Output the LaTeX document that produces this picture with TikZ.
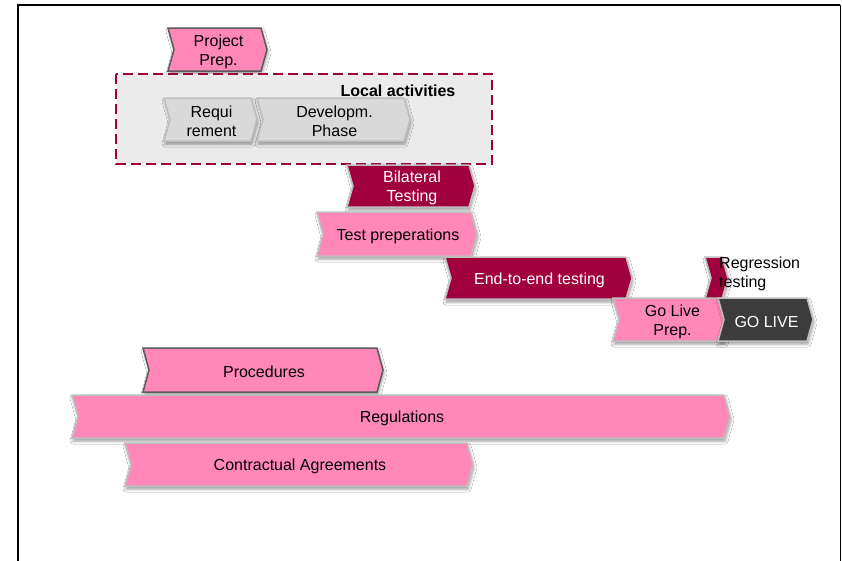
\documentclass[tikz,border=0pt]{standalone}
\usepackage{fontspec}
\setmainfont{Liberation Sans}
\usetikzlibrary{shadows.blur}
\definecolor{pinkc}{RGB}{255,136,184}
\definecolor{redc}{RGB}{160,0,60}
\definecolor{grayc}{RGB}{217,217,217}
\definecolor{darkc}{RGB}{60,60,60}
\definecolor{boxc}{RGB}{235,235,235}
\definecolor{lborder}{RGB}{190,190,190}
\definecolor{dborder}{RGB}{90,90,90}
\tikzset{
  shd/.style={blur shadow={shadow xshift=1pt,shadow yshift=-3pt,shadow blur radius=3pt,shadow opacity=40}},
  pinkbox/.style={fill=pinkc,draw=lborder,line width=1.5pt,line join=miter,shd},
  pinkboxd/.style={fill=pinkc,draw=dborder,line width=1.5pt,line join=miter,shd},
  redbox/.style={fill=redc,draw=lborder,line width=1.5pt,line join=miter,shd},
  graybox/.style={fill=grayc,draw=lborder,line width=1.5pt,line join=miter,shd},
  darkbox/.style={fill=darkc,draw=lborder,line width=1.5pt,line join=miter,shd},
  txt/.style={font=\fontsize{16}{19}\selectfont,align=center,inner sep=0pt,text=black},
  wtxt/.style={txt,text=white},
  localbox/.style={fill=boxc,draw=redc,line width=1.8pt,dash pattern=on 10pt off 5pt},
}
% style, name, x1, y1, x2(tip), y2, text style, text
\newcommand{\chev}[8]{%
  \draw[#1] (#3,#4) -- ({#5-6},#4) -- (#5,{(#4+#6)/2}) -- ({#5-6},#6) -- (#3,#6) -- ({#3+6},{(#4+#6)/2}) -- cycle;
  \node[#7] (#2) at ({(#3+#5)/2+1},{(#4+#6)/2+2}) {#8};}
\begin{document}
\begin{tikzpicture}[x=1pt,y=-1pt]
\useasboundingbox (0,0) rectangle (842,560);
\fill[white] (0,0) rectangle (842,560);
% frame
\draw[line width=2.5pt,black] (18,562) -- (18,5) -- (840,5);
\draw[line width=1pt,black] (840,5) -- (840,562);
% project prep
\chev{pinkboxd}{pp}{168}{28}{267}{71}{txt}{Project\\Prep.}
% local activities box
\draw[localbox] (116,74) rectangle (492,164);
\node[txt,font=\fontsize{16}{19}\selectfont\bfseries] (la) at (398,91) {Local activities};
\chev{graybox}{req}{164}{98}{257}{141}{txt}{Requi\\rement}
\chev{graybox}{dev}{257}{98}{410}{141}{txt}{Developm.\\Phase}
% testing
\chev{redbox}{bil}{347}{165}{475}{207}{wtxt}{Bilateral\\Testing}
\chev{pinkbox}{tp}{317}{212}{477}{256}{txt}{Test preperations}
\chev{redbox}{e2e}{445}{257}{632}{299}{wtxt}{End-to-end testing}
\chev{redbox}{reg}{705}{257}{728}{299}{txt}{}
\node[txt,align=left,anchor=west] (regt) at (719,274) {Regression\\testing};
\chev{pinkbox}{glp}{613}{298}{730}{341}{txt}{Go Live\\Prep.}
\chev{darkbox}{gl}{718}{298}{813}{341}{wtxt}{GO LIVE}
% bottom bars
\chev{pinkboxd}{proc}{143}{348}{383}{392}{txt}{Procedures}
\chev{pinkbox}{regl}{72}{395}{730}{438}{txt}{Regulations}
\chev{pinkbox}{ca}{125}{443}{473}{486}{txt}{Contractual Agreements}
\end{tikzpicture}
\end{document}
